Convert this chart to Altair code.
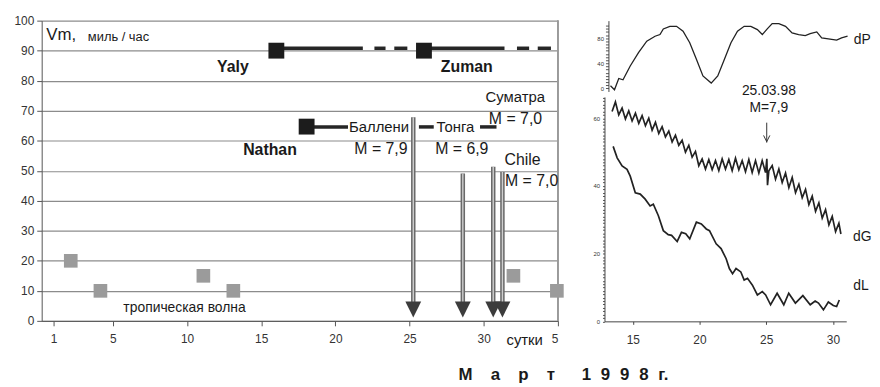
import altair as alt
import pandas as pd

FONT = "Liberation Sans"

# ---------------- left panel: hurricanes & earthquakes ----------------
wave_day = [2.16, 4.16, 11.1, 13.12, 32.0, 34.93]
wave_vm = [20, 10, 15, 10, 15, 10]

storm_day = [16.02, 25.97, 18.06]
storm_vm = [90, 90, 64.7]

track_start = [16.02, 22.63, 23.97, 25.97, 32.24, 33.64, 18.06, 25.63, 29.75]
track_end = [21.85, 23.38, 24.85, 31.4, 33.06, 34.53, 20.85, 26.63, 30.86]
track_vm = [90.8, 90.8, 90.8, 90.8, 90.8, 90.8, 64.6, 64.6, 64.6]

quake_day = [25.25, 28.59, 30.64, 31.26]
quake_top = [67.8, 49.1, 51.3, 49.6]
quake_tip = [6.3, 6.3, 6.3, 6.3]
quake_head = [3.8, 3.8, 3.8, 3.8]

bold_text = ["Yaly", "Zuman", "Nathan"]
bold_x = [13.09, 28.86, 15.59]
bold_y = [84.6, 84.6, 56.8]
bold_size = [16, 16, 16]

norm_text = ["Vm,", "миль / час", "Суматра", "M = 7,0", "Баллени", "M = 7,9",
             "Тонга", "M = 6,9", "Chile", "M = 7,0", "тропическая волна", "сутки"]
norm_x = [1.52, 5.38, 32.13, 32.14, 22.94, 23.07, 28.09, 28.52, 32.62, 33.23, 9.83, 32.76]
norm_y = [95.3, 94.6, 74.4, 67.2, 64.5, 57.2, 64.5, 57.2, 53.5, 46.6, 4.2, -6.4]
norm_size = [17, 13, 15, 16, 15, 16, 15, 16, 16, 16, 14, 15]

title_text = ["М\u2003\u200aа\u2003\u200aр\u2003\u200aт\u2003\u2002\u200a1\u2002\u200a9\u2002\u200a9\u2002\u200a8\u2002\u200aг."]
title_x = [35.37]
title_y = [-18.0]

x_ticks_left = [1, 5, 10, 15, 20, 25, 30, 35]
y_ticks_left = [0, 10, 20, 30, 40, 50, 60, 70, 80, 90, 100]

# ---------------- right panel: dP, dG, dL ----------------
dp_day = [13.33, 13.63, 13.95, 14.27, 14.81, 15.43, 16.05, 16.67, 17.04, 17.29, 17.78,
          18.28, 18.77, 19.27, 19.77, 20.26, 20.88, 21.37, 21.87, 22.36, 22.85, 23.35,
          23.85, 24.34, 24.71, 25.08, 25.45, 25.95, 26.45, 26.94, 27.43, 27.93, 28.30,
          28.79, 29.16, 29.66, 30.28, 30.65, 31.1]
dp_val = [4.1, -2.2, 15.8, 13.6, 35.7, 56.9, 75.2, 83.1, 85.8, 94.8, 98.9, 98.9, 91.0,
          72.7, 46.3, 19.9, 8.4, 19.9, 46.3, 72.7, 91.0, 98.9, 98.9, 93.7, 85.8, 94.8,
          103.2, 103.2, 98.9, 88.5, 85.8, 84.2, 87.4, 90.0, 80.6, 79.0, 76.8, 80.6, 83.1]

dg_day = [13.45, 13.70, 13.95, 14.20, 14.45, 14.70, 14.95, 15.20, 15.45, 15.70, 15.95,
          16.20, 16.45, 16.70, 16.95, 17.20, 17.45, 17.70, 17.95, 18.20, 18.45, 18.70,
          18.95, 19.20, 19.45, 19.70, 19.95, 20.20, 20.45, 20.70, 20.95, 21.20, 21.45,
          21.70, 21.95, 22.20, 22.45, 22.70, 22.95, 23.20, 23.45, 23.70, 23.95, 24.20,
          24.45, 24.70, 24.95, 25.05, 25.10, 25.20, 25.45, 25.70, 25.95, 26.20, 26.45,
          26.70, 26.95, 27.20, 27.45, 27.70, 27.95, 28.20, 28.45, 28.70, 28.95, 29.20,
          29.45, 29.70, 29.95, 30.20, 30.45, 30.60]
dg_val = [62.0, 64.8, 61.0, 63.0, 59.8, 62.2, 59.2, 61.5, 58.5, 60.8, 57.8, 60.0, 56.5,
          58.8, 55.5, 57.5, 54.5, 56.2, 53.0, 55.0, 52.0, 53.5, 50.0, 52.0, 48.5, 50.2,
          46.0, 48.0, 45.0, 47.8, 44.8, 47.5, 44.5, 48.0, 45.0, 47.8, 44.5, 48.2, 44.8,
          47.5, 44.2, 47.8, 44.0, 47.5, 43.8, 47.5, 44.0, 48.0, 40.2, 44.5, 46.0, 42.0,
          45.0, 41.0, 43.8, 39.5, 42.5, 38.0, 40.5, 36.5, 39.0, 34.5, 37.0, 32.5, 35.0,
          30.5, 33.0, 28.5, 31.0, 26.5, 29.0, 25.8]

dl_day = [13.53, 13.83, 14.2, 14.57, 14.81, 15.19, 15.56, 15.93, 16.30, 16.54, 16.92,
          17.29, 17.66, 17.91, 18.33, 18.65, 18.97, 19.27, 19.77, 20.14, 20.51, 20.75,
          21.25, 21.62, 22.0, 22.24, 22.48, 22.74, 23.1, 23.35, 23.6, 23.97, 24.34,
          24.71, 24.96, 25.33, 25.82, 26.32, 26.69, 27.19, 27.75, 28.3, 28.67, 28.92,
          29.29, 29.66, 30.03, 30.28, 30.48]
dl_val = [51.7, 48.3, 45.9, 44.9, 42.9, 38.0, 37.6, 36.1, 34.1, 34.6, 31.2, 26.8, 25.6,
          25.4, 23.6, 26.3, 25.9, 24.4, 29.3, 28.8, 27.3, 26.8, 22.9, 21.5, 18.5, 15.6,
          14.1, 15.6, 14.6, 12.2, 12.7, 10.7, 7.8, 8.8, 7.8, 4.9, 8.3, 4.9, 8.3, 5.4,
          7.6, 4.9, 6.0, 5.4, 3.4, 5.7, 4.7, 4.4, 6.3]

dp_lab_text = ["dP"]
dp_lab_x = [32.2]
dp_lab_y = [76.3]

dg_lab_text = ["dG", "dL", "25.03.98", "M=7,9"]
dg_lab_x = [32.2, 32.1, 25.2, 25.2]
dg_lab_y = [25.0, 10.3, 68.1, 63.0]

eq_day = [25.04]
eq_top = [58.7]
eq_bot = [52.8]
eq_head = [54.0]

x_ticks_right = [15, 20, 25, 30]

# ---------------- build left chart ----------------
xl_axis = alt.Axis(values=x_ticks_left, labelExpr="datum.value == 35 ? '5' : datum.label",
                   grid=False, domainColor="#555", tickColor="#555", tickSize=5,
                   labelPadding=8, labelFontSize=12, labelColor="#333", labelFont=FONT)
yl_axis = alt.Axis(values=y_ticks_left, grid=True, gridColor="#8c8c8c", gridWidth=1.2,
                   domainColor="#555", tickColor="#555", tickSize=5, labelPadding=3,
                   labelFontSize=12, labelColor="#333", labelFont=FONT)
xl_scale = alt.Scale(domain=[0.2, 35], nice=False, zero=False)
yl_scale = alt.Scale(domain=[0, 100], nice=False)


def XL(f):
    return alt.X(f, type="quantitative", scale=xl_scale, axis=xl_axis, title=None)


def YL(f):
    return alt.Y(f, type="quantitative", scale=yl_scale, axis=yl_axis, title=None)


wave_df = pd.DataFrame({"day": wave_day, "vm": wave_vm})
storm_df = pd.DataFrame({"day": storm_day, "vm": storm_vm})
track_df = pd.DataFrame({"s": track_start, "e": track_end, "vm": track_vm})
quake_df = pd.DataFrame({"day": quake_day, "top": quake_top, "tip": quake_tip,
                         "head": quake_head})
bold_df = pd.DataFrame({"t": bold_text, "x": bold_x, "y": bold_y, "s": bold_size})
norm_df = pd.DataFrame({"t": norm_text, "x": norm_x, "y": norm_y, "s": norm_size})
title_df = pd.DataFrame({"t": title_text, "x": title_x, "y": title_y})

base_grid = alt.Chart(wave_df).mark_rule(color="#9a9a9a", strokeWidth=1).encode(
    x=alt.datum(35, scale=xl_scale, axis=xl_axis, title=None),
    y=alt.datum(0, scale=yl_scale, axis=yl_axis, title=None),
    y2=alt.datum(100),
)
tracks = alt.Chart(track_df).mark_rule(strokeWidth=3.5, color="#262626").encode(
    x=XL("s"), x2="e", y=YL("vm"))
waves = alt.Chart(wave_df).mark_square(size=190, color="#9b9b9b", opacity=1).encode(
    x=XL("day"), y=YL("vm"))
storms = alt.Chart(storm_df).mark_square(size=256, color="#1c1c1c", opacity=1).encode(
    x=XL("day"), y=YL("vm"))
shaft_out = alt.Chart(quake_df).mark_rule(strokeWidth=4.5, color="#6a6a6a").encode(
    x=XL("day"), y=YL("top"), y2="tip")
shaft_in = alt.Chart(quake_df).mark_rule(strokeWidth=1.4, color="#cfcfcf").encode(
    x=XL("day"), y=YL("top"), y2="tip")
heads = alt.Chart(quake_df).mark_point(shape="M-1,-1L1,-1L0,1Z", filled=True, size=256,
                                       color="#3c3c3c", opacity=1).encode(
    x=XL("day"), y=YL("head"))
bold_lbl = alt.Chart(bold_df).mark_text(fontWeight="bold", color="#1a1a1a",
                                        baseline="middle", align="center").encode(
    x=XL("x"), y=YL("y"), text="t:N", size=alt.Size("s:Q", scale=None, legend=None))
norm_lbl = alt.Chart(norm_df).mark_text(color="#1a1a1a", baseline="middle",
                                        align="center").encode(
    x=XL("x"), y=YL("y"), text="t:N", size=alt.Size("s:Q", scale=None, legend=None))
title_lbl = alt.Chart(title_df).mark_text(color="#1a1a1a", fontWeight="bold", fontSize=17,
                                          baseline="middle", align="center").encode(
    x=XL("x"), y=YL("y"), text="t:N")

left = alt.layer(base_grid, tracks, waves, storms, shaft_out, shaft_in, heads,
                 bold_lbl, norm_lbl, title_lbl).properties(width=521, height=303)

# ---------------- build right charts ----------------
xr_scale = alt.Scale(domain=[12.88, 31.0], nice=False, zero=False)
xr_axis = alt.Axis(values=x_ticks_right, grid=False, domainColor="#444", tickColor="#444",
                   tickSize=3, labelPadding=10, labelFontSize=12, labelColor="#333",
                   labelFont=FONT)

dp_scale = alt.Scale(domain=[-5, 108], nice=False, zero=False)
dp_axis = alt.Axis(values=list(range(0, 101, 5)),
                   labelExpr="datum.value % 40 == 0 ? datum.label : ''",
                   labelOverlap=False, grid=False, domainColor="#444", tickColor="#555",
                   tickSize=3, labelPadding=2, labelFontSize=6, labelColor="#333",
                   offset=-4, labelFont=FONT)
dg_scale = alt.Scale(domain=[0, 66.3], nice=False, zero=False)
dg_axis = alt.Axis(values=list(range(0, 67, 1)),
                   labelExpr="datum.value % 20 == 0 ? datum.label : ''",
                   labelOverlap=False, labelFlush=False, grid=False, domainColor="#444",
                   tickColor="#555", tickSize=2, labelPadding=3, labelFontSize=6,
                   labelColor="#333", labelFont=FONT)

dp_df = pd.DataFrame({"day": dp_day, "v": dp_val})
dg_df = pd.DataFrame({"day": dg_day, "v": dg_val})
dl_df = pd.DataFrame({"day": dl_day, "v": dl_val})
dp_lab_df = pd.DataFrame({"t": dp_lab_text, "x": dp_lab_x, "y": dp_lab_y})
dg_lab_df = pd.DataFrame({"t": dg_lab_text, "x": dg_lab_x, "y": dg_lab_y})
eq_df = pd.DataFrame({"day": eq_day, "top": eq_top, "bot": eq_bot, "head": eq_head})


def XR(f, axis=xr_axis):
    return alt.X(f, type="quantitative", scale=xr_scale, axis=axis, title=None)


def YP(f):
    return alt.Y(f, type="quantitative", scale=dp_scale, axis=dp_axis, title=None)


def YG(f):
    return alt.Y(f, type="quantitative", scale=dg_scale, axis=dg_axis, title=None)


dp_line = alt.Chart(dp_df).mark_line(color="#222", strokeWidth=1.3).encode(
    x=XR("day", None), y=YP("v"))
dp_lbl = alt.Chart(dp_lab_df).mark_text(fontSize=14, color="#1a1a1a", baseline="middle",
                                        align="center").encode(
    x=XR("x", None), y=YP("y"), text="t:N")
dp_chart = alt.layer(dp_line, dp_lbl).properties(width=244, height=71.5)

dg_line = alt.Chart(dg_df).mark_line(color="#222", strokeWidth=1.7).encode(
    x=XR("day"), y=YG("v"))
dl_line = alt.Chart(dl_df).mark_line(color="#222", strokeWidth=1.7).encode(
    x=XR("day"), y=YG("v"))
dg_lbl = alt.Chart(dg_lab_df).mark_text(fontSize=14, color="#1a1a1a", baseline="middle",
                                        align="center").encode(
    x=XR("x"), y=YG("y"), text="t:N")
eq_rule = alt.Chart(eq_df).mark_rule(color="#333", strokeWidth=1).encode(
    x=XR("day"), y=YG("top"), y2="bot")
eq_head_m = alt.Chart(eq_df).mark_point(shape="M-1,-1L0,1L1,-1", filled=False, size=40,
                                        color="#333", strokeWidth=1, opacity=1).encode(
    x=XR("day"), y=YG("head"))
dg_chart = alt.layer(dg_line, dl_line, dg_lbl, eq_rule, eq_head_m).properties(
    width=244, height=226.5)

right = alt.vconcat(dp_chart, dg_chart, spacing=5, bounds="flush")

chart = alt.hconcat(left, right, spacing=47, bounds="flush",
                    padding={"left": 5, "top": 5, "right": 0, "bottom": 2}).configure_view(
    stroke=None).configure_text(font=FONT)

chart.save("out.html", embed_options={"renderer": "svg", "actions": False})
